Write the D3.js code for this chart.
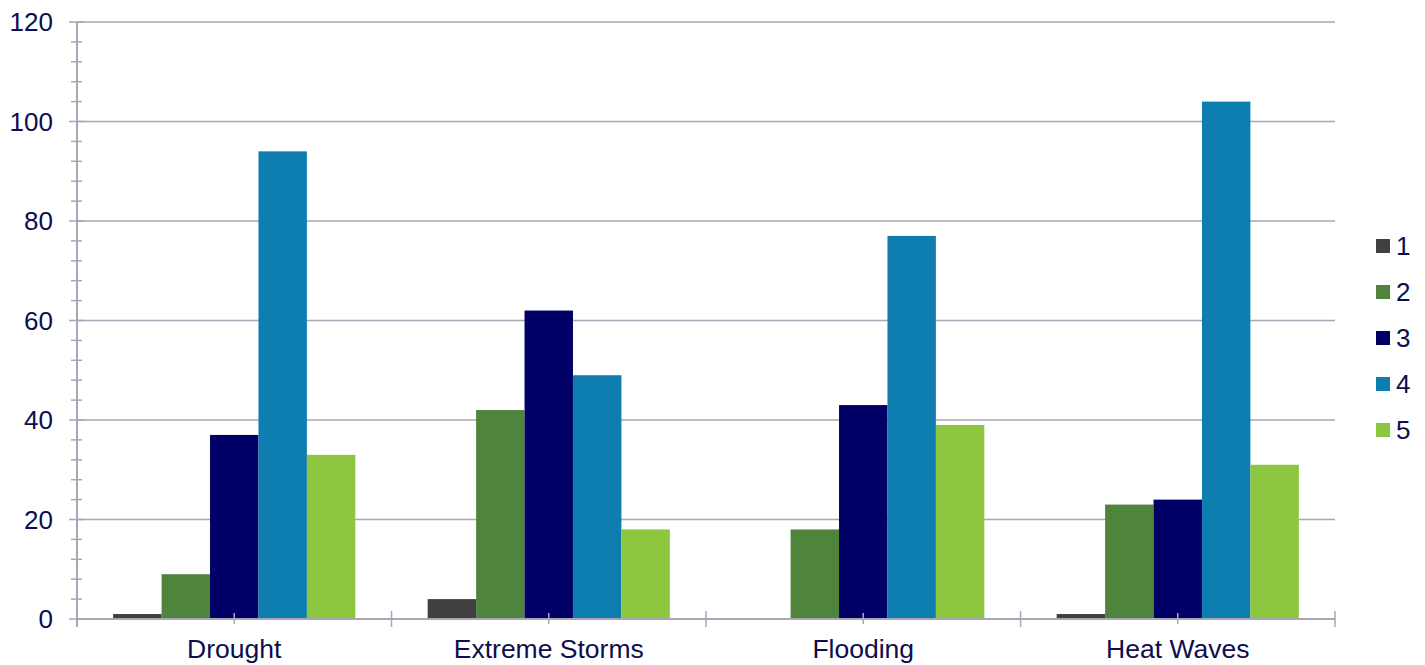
<!DOCTYPE html>
<html><head><meta charset="utf-8">
<script src="https://cdn.jsdelivr.net/npm/d3@7"></script>
<style>body{margin:0;background:#fff;}svg{display:block;}</style>
</head><body>
<svg id="chart" width="1425" height="665"></svg>
<script>
const categories = ["Drought", "Extreme Storms", "Flooding", "Heat Waves"];
const seriesNames = ["1", "2", "3", "4", "5"];
const series1 = [1, 4, 0, 1];
const series2 = [9, 42, 18, 23];
const series3 = [37, 62, 43, 24];
const series4 = [94, 49, 77, 104];
const series5 = [33, 18, 39, 31];
const colors = ["#404040", "#4f843c", "#000066", "#0e7eb0", "#8dc63f"];
const yTicks = [0, 20, 40, 60, 80, 100, 120];
const yMinorTicks = d3.range(0, 121, 4);

(function () {
const allSeries = [series1, series2, series3, series4, series5];
const svg = d3.select("#chart");
const mLeft = 77, mRight = 1335, mTop = 22, mBottom = 619;
const textColor = "#0d0d4f", gridColor = "#a7a7b5";
const font = "Liberation Sans, Arial, sans-serif";

const y = d3.scaleLinear().domain([0, 120]).range([mBottom, mTop]);
const x0 = d3.scaleBand().domain(categories).range([mLeft, mRight]).padding(0);
const pad = x0.bandwidth() * 0.115;
const x1 = d3.scaleBand().domain(seriesNames).range([pad, x0.bandwidth() - pad]).padding(0);

// gridlines
svg.append("g").selectAll("line").data(yTicks.filter(d => d > 0)).join("line")
  .attr("x1", mLeft).attr("x2", mRight).attr("y1", d => y(d)).attr("y2", d => y(d))
  .attr("stroke", gridColor).attr("stroke-width", 1.5);

// bars
const g = svg.append("g");
categories.forEach((c, ci) => {
  seriesNames.forEach((s, si) => {
    const v = allSeries[si][ci];
    if (v <= 0) return;
    g.append("rect")
      .attr("x", x0(c) + x1(s)).attr("width", x1.bandwidth())
      .attr("y", y(v)).attr("height", y(0) - y(v))
      .attr("fill", colors[si]);
  });
});

// y axis line
svg.append("line").attr("x1", mLeft).attr("x2", mLeft).attr("y1", mTop).attr("y2", mBottom + 8)
  .attr("stroke", gridColor).attr("stroke-width", 2);
// minor ticks
svg.append("g").selectAll("line").data(yMinorTicks.filter(d => d % 20 !== 0)).join("line")
  .attr("x1", mLeft - 6).attr("x2", mLeft + 5).attr("y1", d => y(d)).attr("y2", d => y(d))
  .attr("stroke", gridColor).attr("stroke-width", 1.5);
svg.append("g").selectAll("line").data(yTicks).join("line")
  .attr("x1", mLeft - 8).attr("x2", mLeft + 7).attr("y1", d => y(d)).attr("y2", d => y(d))
  .attr("stroke", gridColor).attr("stroke-width", 1.5);
// y labels
svg.append("g").selectAll("text").data(yTicks).join("text")
  .attr("x", 53).attr("y", d => y(d)).attr("dy", "0.36em")
  .attr("text-anchor", "end").attr("fill", textColor)
  .style("font-family", font).style("font-size", "26px").text(d => d);

// x axis line
svg.append("line").attr("x1", mLeft).attr("x2", mRight).attr("y1", mBottom).attr("y2", mBottom)
  .attr("stroke", gridColor).attr("stroke-width", 2);
// boundary ticks
const bounds = categories.map(c => x0(c)).concat([mRight]);
svg.append("g").selectAll("line").data(bounds).join("line")
  .attr("x1", d => d).attr("x2", d => d).attr("y1", mBottom - 8).attr("y2", mBottom + 8)
  .attr("stroke", gridColor).attr("stroke-width", 1.5);
// center ticks
svg.append("g").selectAll("line").data(categories).join("line")
  .attr("x1", d => x0(d) + x0.bandwidth() / 2).attr("x2", d => x0(d) + x0.bandwidth() / 2)
  .attr("y1", mBottom - 6).attr("y2", mBottom + 5)
  .attr("stroke", gridColor).attr("stroke-width", 1.5);
// x labels
svg.append("g").selectAll("text").data(categories).join("text")
  .attr("x", d => x0(d) + x0.bandwidth() / 2).attr("y", 658)
  .attr("text-anchor", "middle").attr("fill", textColor)
  .style("font-family", font).style("font-size", "26.5px").text(d => d);

// legend
const leg = svg.append("g").selectAll("g").data(seriesNames).join("g")
  .attr("transform", (d, i) => `translate(1376, ${246 + i * 46})`);
leg.append("rect").attr("x", 0).attr("y", -7).attr("width", 14).attr("height", 14)
  .attr("fill", (d, i) => colors[i]);
leg.append("text").attr("x", 20).attr("y", 0).attr("dy", "0.36em")
  .attr("fill", textColor).style("font-family", font).style("font-size", "26px").text(d => d);
})();
</script>
</body></html>
